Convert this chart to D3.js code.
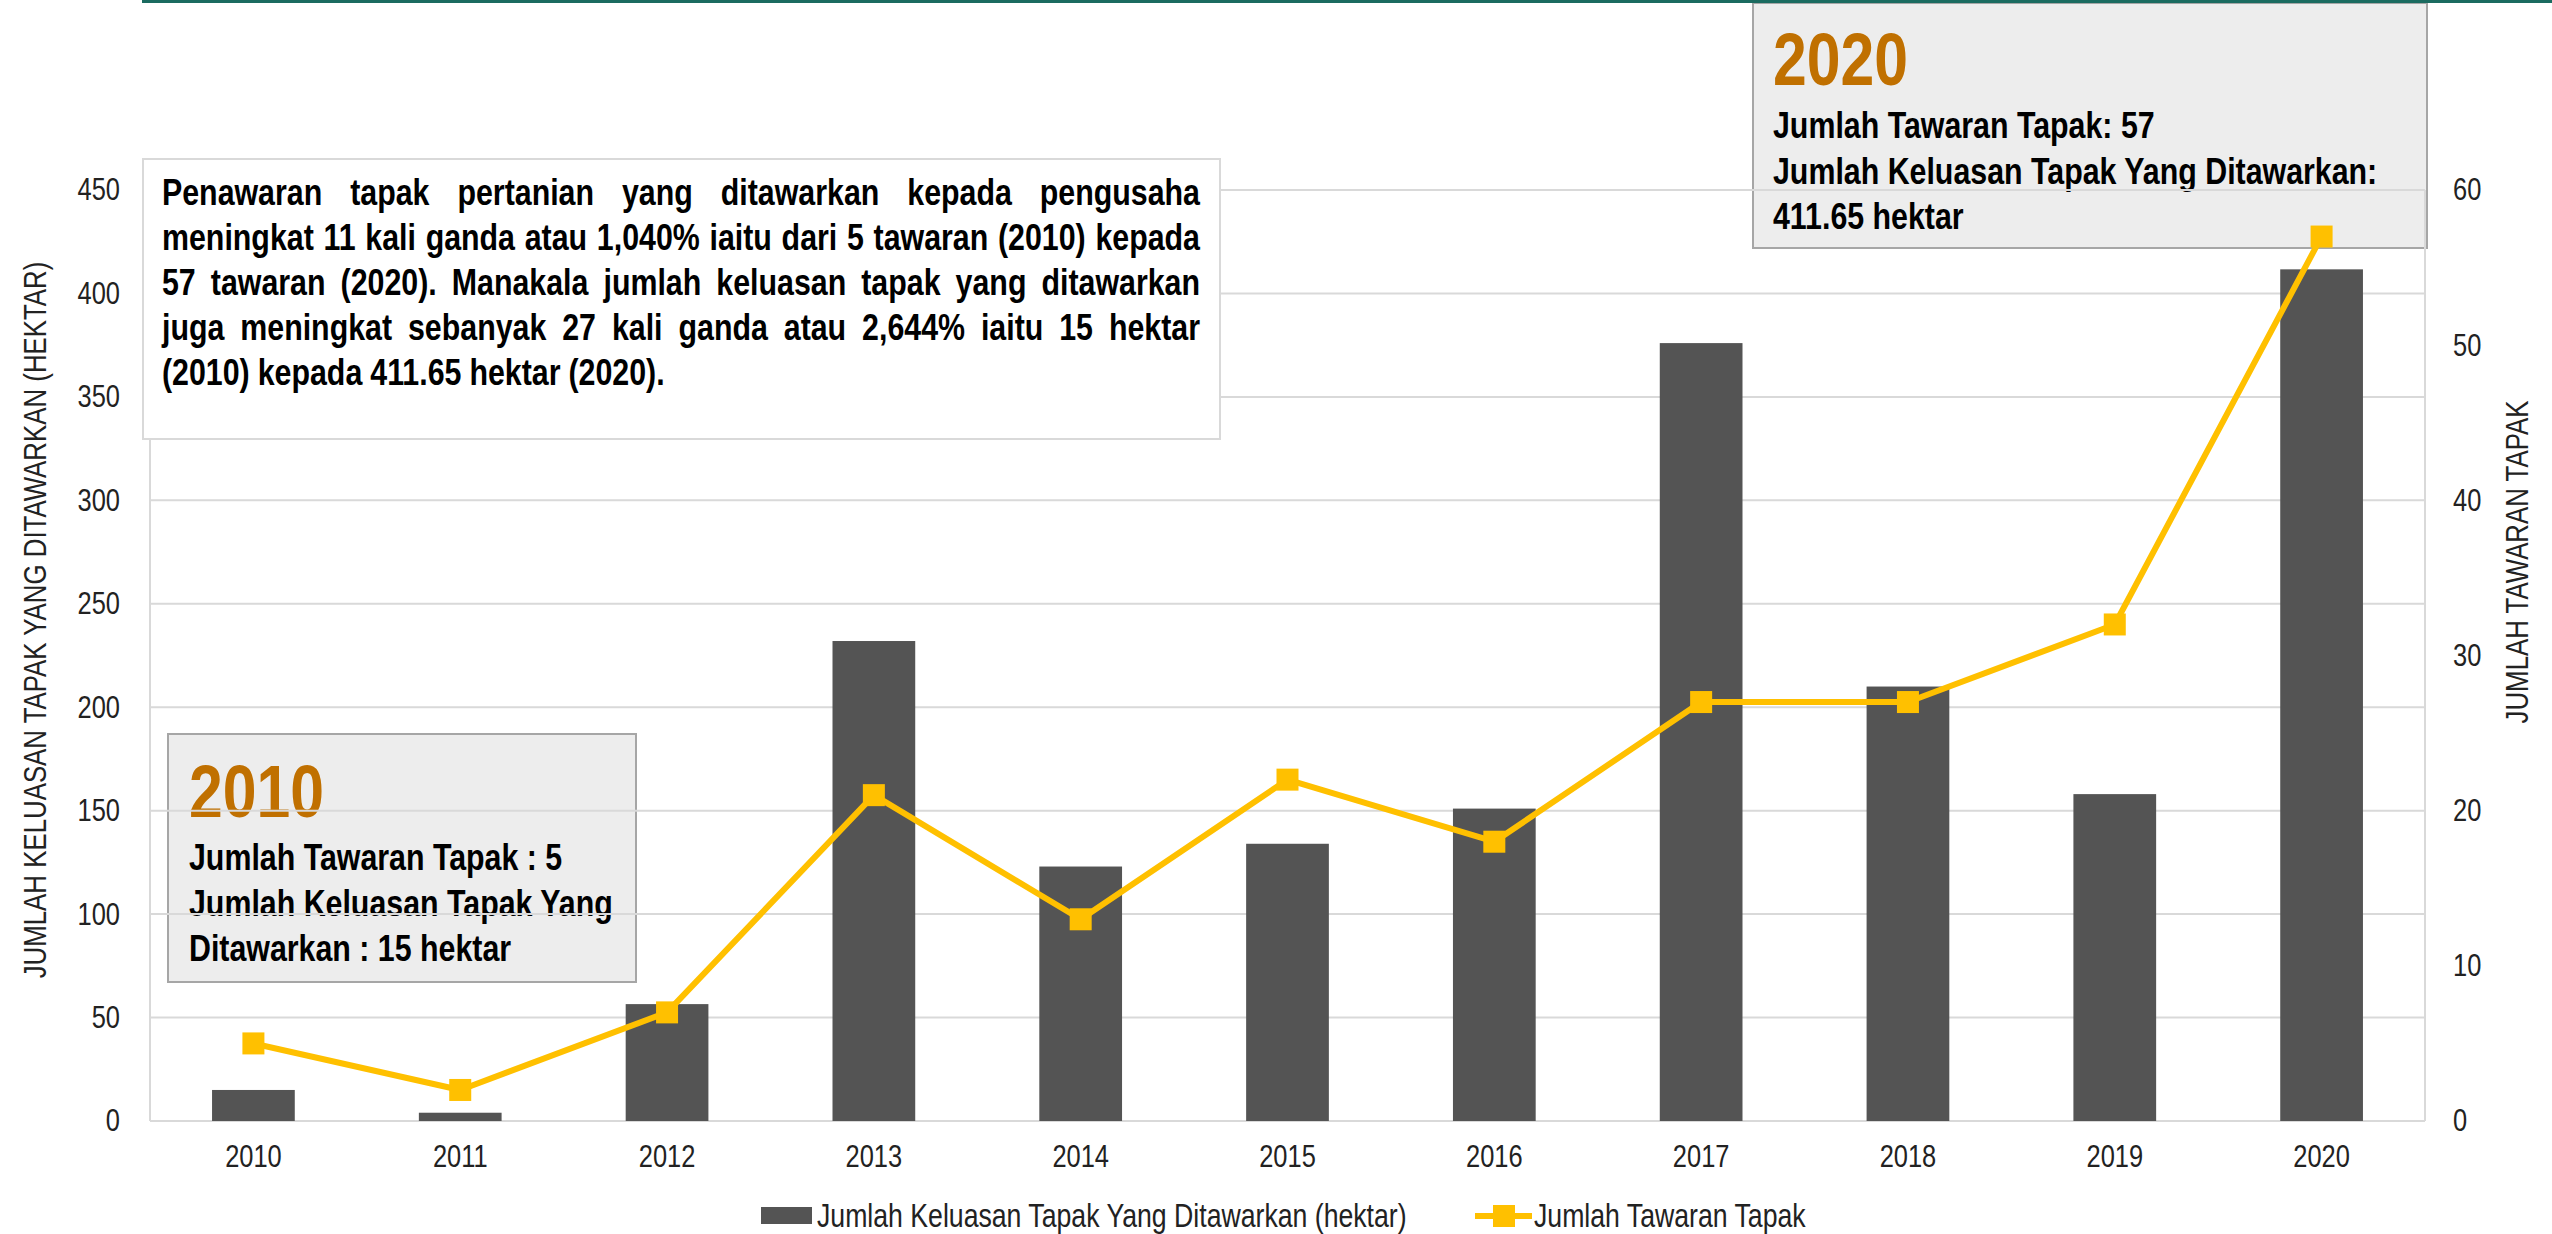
<html>
<script src='https://d3js.org/d3.v7.min.js'></script>
<style>
    body { margin: 0; background: #fff; }
    text { font-family: 'Liberation Sans', Arial, sans-serif; }
</style>

<body onload='init()'>
    <svg width=2552 height=1234></svg>
    <script>
        // data
        const years = ['2010', '2011', '2012', '2013', '2014', '2015', '2016', '2017', '2018', '2019', '2020'];
        const hektar = [15, 4, 56.5, 232, 123, 134, 151, 376, 210, 158, 411.65];   // bars, left axis
        const tawaran = [5, 2, 7, 21, 13, 22, 18, 27, 27, 32, 57];                 // line, right axis
        const leftTicks = [0, 50, 100, 150, 200, 250, 300, 350, 400, 450];
        const rightTicks = [0, 10, 20, 30, 40, 50, 60];
        const seriesNames = ['Jumlah Keluasan Tapak Yang Ditawarkan (hektar)', 'Jumlah Tawaran Tapak'];
        const leftTitle = 'JUMLAH KELUASAN TAPAK YANG DITAWARKAN (HEKTAR)';
        const rightTitle = 'JUMLAH TAWARAN TAPAK';
        const noteLines = [
            'Penawaran tapak pertanian yang ditawarkan kepada pengusaha',
            'meningkat 11 kali ganda atau 1,040% iaitu dari 5 tawaran (2010) kepada',
            '57 tawaran (2020). Manakala jumlah keluasan tapak yang ditawarkan',
            'juga meningkat sebanyak 27 kali ganda atau 2,644% iaitu 15 hektar',
            '(2010) kepada 411.65 hektar (2020).'
        ];
        const box2010 = ['Jumlah Tawaran Tapak : 5', 'Jumlah Keluasan Tapak Yang', 'Ditawarkan : 15 hektar'];
        const box2020 = ['Jumlah Tawaran Tapak: 57', 'Jumlah Keluasan Tapak Yang Ditawarkan:', '411.65 hektar'];

        const barColor = '#545454', lineColor = '#ffc000', gridColor = '#d9d9d9', yearColor = '#c07000';
        const squeeze = 0.82;  // no Arial Narrow here, so squash Liberation Sans instead

        function narrow(sel) {
            sel.each(function () {
                let w = this.getComputedTextLength();
                d3.select(this).attr('textLength', w * squeeze).attr('lengthAdjust', 'spacingAndGlyphs');
            });
        }

        function init() {
            const svg = d3.select('svg');
            const left = 150, right = 2425, top = 190, bottom = 1121;

            // Scales
            let x = d3.scaleBand().domain(years).range([left, right]).paddingInner(0.6).paddingOuter(0.3);
            let yL = d3.scaleLinear().domain([0, 450]).range([bottom, top]);
            let yR = d3.scaleLinear().domain([0, 60]).range([bottom, top]);
            let cx = d => x(d) + x.bandwidth() / 2;

            svg.append('rect').attr('width', 2552).attr('height', 1234).attr('fill', '#fff');

            // annotation boxes that sit behind the plot
            function yearBox(x0, y0, w, h, year, lines, tx, ty) {
                let g = svg.append('g');
                g.append('rect').attr('x', x0).attr('y', y0).attr('width', w).attr('height', h)
                    .attr('fill', '#ededed').attr('stroke', '#a6a6a6').attr('stroke-width', 2);
                g.append('text').attr('x', tx).attr('y', ty).text(year)
                    .attr('font-size', 74).attr('font-weight', 'bold').attr('fill', yearColor);
                lines.forEach((l, i) => {
                    g.append('text').attr('x', tx).attr('y', ty + 53 + i * 45.5).text(l)
                        .attr('font-size', 37).attr('font-weight', 'bold').attr('fill', '#000');
                });
            }
            yearBox(168, 734, 468, 248, '2010', box2010, 189, 817);
            yearBox(1753, 3, 674, 245, '2020', box2020, 1773, 85);

            // gridlines + plot border
            svg.append('g').selectAll('line').data(leftTicks).enter().append('line')
                .attr('x1', left).attr('x2', right)
                .attr('y1', d => yL(d)).attr('y2', d => yL(d))
                .attr('stroke', gridColor).attr('stroke-width', 2);
            svg.append('g').selectAll('line').data([left, right]).enter().append('line')
                .attr('x1', d => d).attr('x2', d => d).attr('y1', top).attr('y2', bottom)
                .attr('stroke', gridColor).attr('stroke-width', 2);

            // bars
            svg.append('g').selectAll('rect').data(years).enter().append('rect')
                .attr('x', d => x(d)).attr('width', x.bandwidth())
                .attr('y', (d, i) => yL(hektar[i]))
                .attr('height', (d, i) => bottom - yL(hektar[i]))
                .attr('fill', barColor);

            // line + square markers
            let line = d3.line().x((d, i) => cx(years[i])).y(d => yR(d));
            svg.append('path').datum(tawaran).attr('d', line)
                .attr('fill', 'none').attr('stroke', lineColor).attr('stroke-width', 6).attr('stroke-linejoin', 'round');
            svg.append('g').selectAll('rect').data(tawaran).enter().append('rect')
                .attr('x', (d, i) => cx(years[i]) - 11).attr('y', d => yR(d) - 11)
                .attr('width', 22).attr('height', 22).attr('fill', lineColor);

            // axes
            let axL = svg.append('g').attr('transform', `translate(${left},0)`)
                .call(d3.axisLeft(yL).tickValues(leftTicks).tickSize(0).tickPadding(30));
            let axR = svg.append('g').attr('transform', `translate(${right},0)`)
                .call(d3.axisRight(yR).tickValues(rightTicks).tickSize(0).tickPadding(28));
            let axB = svg.append('g').attr('transform', `translate(0,${bottom})`)
                .call(d3.axisBottom(x).tickSize(0));
            [axL, axR, axB].forEach(a => {
                a.select('.domain').remove();
                a.selectAll('text').attr('font-size', 31).attr('fill', '#222')
                    .style('font-family', "'Liberation Sans', Arial, sans-serif");
            });
            axB.selectAll('text').attr('y', 46).attr('dy', 0);

            // axis titles
            svg.append('text').attr('transform', 'translate(46,620) rotate(-90)')
                .attr('text-anchor', 'middle').attr('font-size', 31.5).attr('fill', '#222').text(leftTitle);
            svg.append('text').attr('transform', 'translate(2528,562) rotate(-90)')
                .attr('text-anchor', 'middle').attr('font-size', 31.5).attr('fill', '#222').text(rightTitle);

            // legend
            let lg = svg.append('g');
            lg.append('rect').attr('x', 761).attr('y', 1207).attr('width', 51).attr('height', 17).attr('fill', barColor);
            lg.append('text').attr('x', 817).attr('y', 1227).attr('font-size', 32.5).attr('fill', '#222').text(seriesNames[0]);
            lg.append('line').attr('x1', 1475).attr('x2', 1532).attr('y1', 1216).attr('y2', 1216)
                .attr('stroke', lineColor).attr('stroke-width', 6);
            lg.append('rect').attr('x', 1493).attr('y', 1205).attr('width', 22).attr('height', 22).attr('fill', lineColor);
            lg.append('text').attr('x', 1534).attr('y', 1227).attr('font-size', 32.5).attr('fill', '#222').text(seriesNames[1]);

            narrow(svg.selectAll('text'));

            // justified note box on top
            svg.append('rect').attr('x', 143).attr('y', 159).attr('width', 1077).attr('height', 280)
                .attr('fill', '#fff').attr('stroke', gridColor).attr('stroke-width', 2);
            let nx0 = 162, nx1 = 1200;
            noteLines.forEach((l, i) => {
                let words = l.split(' ');
                let g = svg.append('g');
                let ts = words.map(w => g.append('text').attr('y', 205 + i * 45)
                    .attr('font-size', 37).attr('font-weight', 'bold').attr('fill', '#000').text(w));
                let widths = ts.map(t => t.node().getComputedTextLength() * squeeze);
                ts.forEach((t, j) => t.attr('textLength', widths[j]).attr('lengthAdjust', 'spacingAndGlyphs'));
                let total = d3.sum(widths);
                let gap = (i < noteLines.length - 1) ? (nx1 - nx0 - total) / (words.length - 1) : 8;
                let pos = nx0;
                ts.forEach((t, j) => { t.attr('x', pos); pos += widths[j] + gap; });
            });

            // thin teal rule at the very top
            svg.append('rect').attr('x', 142).attr('y', 0).attr('width', 2410).attr('height', 3).attr('fill', '#1b6b60');
        }
    </script>
</body>

</html>
